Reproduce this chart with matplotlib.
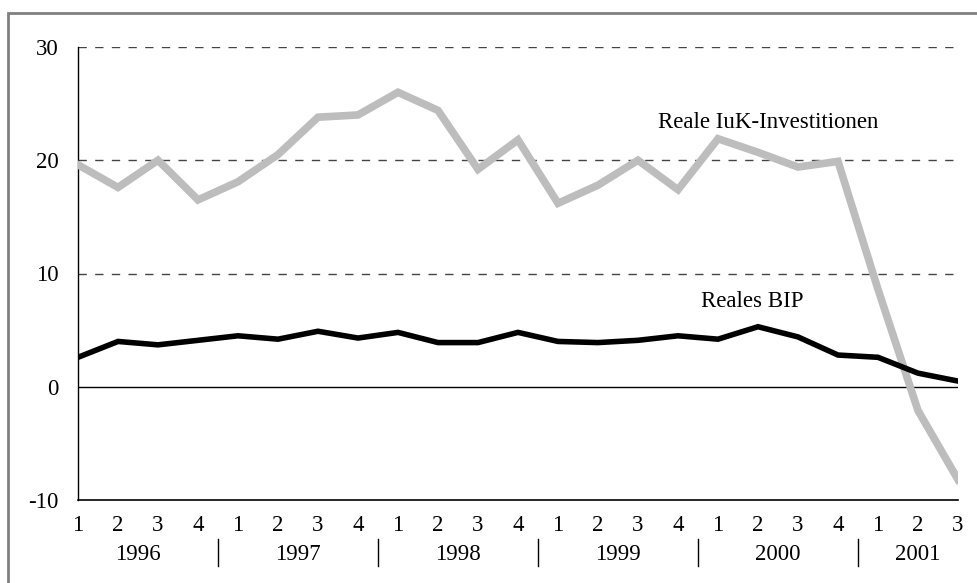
import matplotlib
matplotlib.use("Agg")
import matplotlib.pyplot as plt
from matplotlib.patches import Rectangle

plt.rcParams['font.family'] = ['Liberation Serif', 'DejaVu Serif']

# quarters 1996Q1 .. 2001Q3
quarters = ['1', '2', '3', '4'] * 5 + ['1', '2', '3']
years = ['1996', '1997', '1998', '1999', '2000', '2001']
iuk = [19.6, 17.6, 20.0, 16.5, 18.1, 20.5, 23.8, 24.0, 26.0, 24.4, 19.2, 21.8,
       16.2, 17.8, 20.0, 17.4, 21.9, 20.7, 19.4, 19.9, 8.6, -2.1, -8.2]
bip = [2.6, 4.0, 3.7, 4.1, 4.5, 4.2, 4.9, 4.3, 4.8, 3.9, 3.9, 4.8,
       4.0, 3.9, 4.1, 4.5, 4.2, 5.3, 4.4, 2.8, 2.6, 1.2, 0.5]
yticks = [-10, 0, 10, 20, 30]

x = list(range(len(quarters)))
fs = 16.5

fig = plt.figure(figsize=(9.78, 5.83), dpi=100)
ax = fig.add_axes([78 / 978, 1 - 500 / 583, 880 / 978, 453 / 583])

# outer frame (runs off right and bottom)
fig.patches.append(Rectangle((8 / 978, -0.1), 1.1, 1 - 13 / 583 + 0.1,
                             transform=fig.transFigure, fill=False,
                             edgecolor='#808080', linewidth=2))

for y in [10, 20, 30]:
    ax.axhline(y, color='#444444', linewidth=1, linestyle=(0, (6, 6)), zorder=1)
ax.axhline(0, color='black', linewidth=1, zorder=1)

ax.plot(x, iuk, color='#bdbdbd', linewidth=5.5, solid_joinstyle='miter', zorder=3)
ax.plot(x, bip, color='black', linewidth=4, solid_joinstyle='miter', zorder=4)

ax.text(17.25, 23.3, 'Reale IuK-Investitionen', fontsize=fs, ha='center', va='center')
ax.text(16.85, 7.5, 'Reales BIP', fontsize=fs, ha='center', va='center')

ax.set_xlim(0, 22)
ax.set_ylim(-10, 30)
ax.set_yticks(yticks)
ax.set_yticklabels([str(v) for v in yticks], fontsize=fs)
ax.set_xticks(x)
ax.set_xticklabels(quarters, fontsize=fs)
ax.tick_params(axis='both', length=0)
ax.tick_params(axis='y', pad=14)
ax.tick_params(axis='x', pad=11)

for side in ['top', 'right']:
    ax.spines[side].set_visible(False)
ax.spines['left'].set_color('black')
ax.spines['bottom'].set_color('black')
ax.spines['left'].set_linewidth(1)
ax.spines['bottom'].set_linewidth(1.2)

# year labels and separators below the quarter labels
trans = ax.get_xaxis_transform()
for i, yr in enumerate(years):
    start = 4 * i
    end = min(start + 3, len(x) - 1)
    ax.text((start + end) / 2, -54 / 453, yr, fontsize=fs, ha='center', va='center',
            transform=trans)
    if i > 0:
        ax.plot([start - 0.5, start - 0.5], [-39 / 453, -66 / 453], color='black',
                linewidth=1, transform=trans, clip_on=False)

fig.savefig('out.png', dpi=100)
